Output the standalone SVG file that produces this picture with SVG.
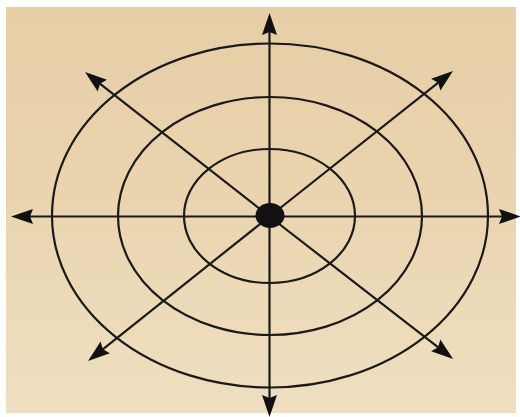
<svg xmlns="http://www.w3.org/2000/svg" width="520" height="417" viewBox="0 0 520 417">
  <defs>
    <linearGradient id="bg" x1="0" y1="0" x2="0" y2="1">
      <stop offset="0" stop-color="#e6cea6"/>
      <stop offset="0.5" stop-color="#ead5b0"/>
      <stop offset="1" stop-color="#efdfc0"/>
    </linearGradient>
    <marker id="ah" markerUnits="userSpaceOnUse" markerWidth="24" markerHeight="16" refX="4" refY="8" orient="auto" overflow="visible">
      <path d="M0,0.5 L22,8 L0,15.5 L3,8 Z" fill="#111111"/>
    </marker>
    <style>
      .ring { fill: none; stroke: #1a1a1a; stroke-width: 2.2; }
      .ray { stroke: #1a1a1a; stroke-width: 2.2; fill: none; marker-end: url(#ah); }
    </style>
  </defs>
  <rect width="520" height="417" fill="#ffffff"/>
  <rect x="6" y="7" width="510" height="406" fill="url(#bg)"/>

  <g id="rings">
    <ellipse id="ring-outer" class="ring" cx="270" cy="215.5" rx="218" ry="172"/>
    <ellipse id="ring-middle" class="ring" cx="270" cy="216" rx="152" ry="119"/>
    <ellipse id="ring-inner" class="ring" cx="269.5" cy="216" rx="85.5" ry="67"/>
  </g>

  <g id="connectors">
    <line class="ray" x1="269.5" y1="216.5" x2="269.5" y2="31"/>
    <line class="ray" x1="269.5" y1="216.5" x2="269.5" y2="399"/>
    <line class="ray" x1="269.5" y1="216.5" x2="29" y2="216.5"/>
    <line class="ray" x1="269.5" y1="216.5" x2="503" y2="216.5"/>
    <line class="ray" x1="269.5" y1="216.5" x2="99.2" y2="83.1"/>
    <line class="ray" x1="269.5" y1="216.5" x2="438.9" y2="82.2"/>
    <line class="ray" x1="269.5" y1="216.5" x2="102.1" y2="349.8"/>
    <line class="ray" x1="269.5" y1="216.5" x2="438.9" y2="347.9"/>
  </g>

  <g id="center">
    <ellipse cx="270" cy="215.5" rx="14.5" ry="12.5" fill="#111111"/>
  </g>
</svg>
